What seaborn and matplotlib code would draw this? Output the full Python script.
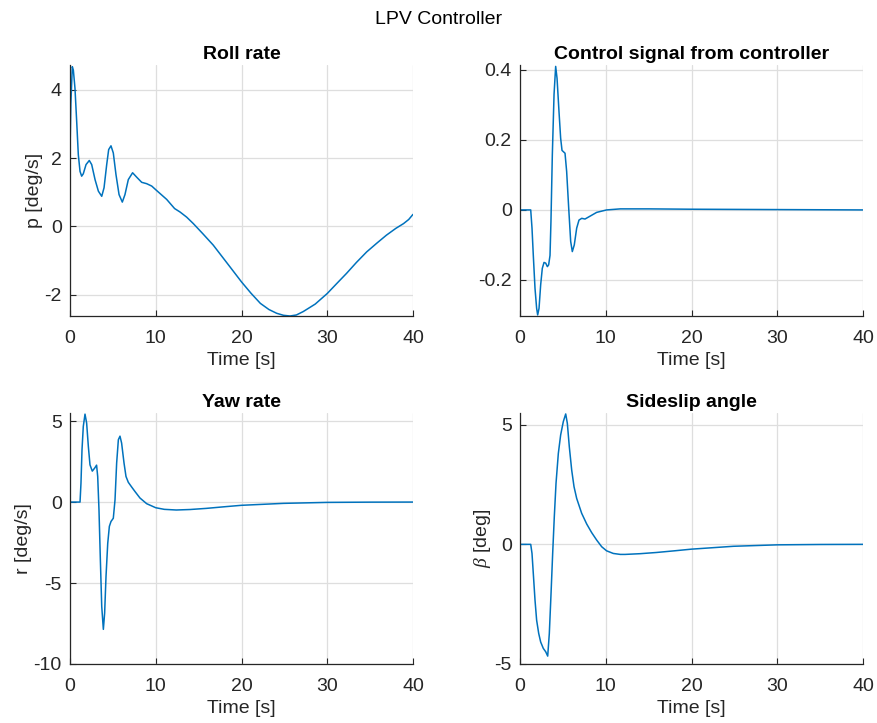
import numpy as np
import pandas as pd
import matplotlib
matplotlib.use("Agg")
import matplotlib.pyplot as plt
import seaborn as sns

# ---------------- data ----------------
roll_t = [0.0, 0.1, 0.27, 0.39, 0.58, 0.78, 0.97, 1.17, 1.36, 1.55, 1.87, 2.25, 2.53,
          2.92, 3.31, 3.7, 3.97, 4.28, 4.51, 4.78, 5.05, 5.36, 5.72, 6.1, 6.41, 6.8,
          7.3, 7.78, 8.36, 8.94, 9.53, 10.1, 11.27, 12.2, 12.83, 13.6, 14.38, 15.5,
          16.7, 18.66, 20.0, 21.1, 22.2, 23.2, 24.1, 24.9, 25.66, 26.4, 27.2, 28.6,
          30.0, 31.1, 32.25, 33.4, 34.6, 35.8, 36.9, 38.0, 38.9, 39.5, 40.0]
roll_p = [2.2, 3.6, 4.68, 4.58, 4.05, 3.07, 2.1, 1.61, 1.47, 1.54, 1.81, 1.93, 1.81,
          1.37, 1.03, 0.88, 1.13, 1.81, 2.25, 2.36, 2.15, 1.52, 0.93, 0.71, 0.93, 1.37,
          1.57, 1.44, 1.29, 1.25, 1.18, 1.05, 0.79, 0.52, 0.42, 0.27, 0.08, -0.22,
          -0.55, -1.19, -1.63, -1.96, -2.26, -2.44, -2.55, -2.61, -2.63, -2.6, -2.5,
          -2.28, -1.97, -1.68, -1.38, -1.06, -0.75, -0.49, -0.26, -0.06, 0.08, 0.2, 0.35]

ctrl_t = [0.0, 1.25, 1.4, 1.55, 1.75, 1.94, 2.06, 2.22, 2.41, 2.6, 2.8, 3.0, 3.19,
          3.34, 3.5, 3.61, 3.77, 3.97, 4.16, 4.32, 4.55, 4.74, 4.9, 5.25, 5.44, 5.68,
          5.91, 6.1, 6.33, 6.61, 6.88, 7.2, 7.58, 8.3, 8.94, 10.1, 11.7, 15.0, 20.0,
          30.0, 40.0]
ctrl_u = [0.0, 0.0, -0.052, -0.129, -0.224, -0.281, -0.30, -0.281, -0.214, -0.167,
          -0.15, -0.152, -0.162, -0.157, -0.13, -0.033, 0.157, 0.33, 0.41, 0.376, 0.28,
          0.205, 0.17, 0.162, 0.11, 0.005, -0.09, -0.119, -0.1, -0.052, -0.029, -0.024,
          -0.026, -0.016, -0.007, 0.0, 0.003, 0.003, 0.002, 0.001, 0.0]

yaw_t = [0.0, 1.17, 1.28, 1.4, 1.55, 1.75, 1.94, 2.14, 2.33, 2.6, 2.88, 3.1, 3.23,
         3.38, 3.54, 3.7, 3.89, 4.04, 4.2, 4.4, 4.59, 4.78, 5.05, 5.25, 5.44, 5.64,
         5.83, 6.02, 6.3, 6.53, 6.8, 7.19, 7.58, 8.16, 8.94, 10.0, 11.0, 12.4, 14.0,
         15.9, 18.0, 20.0, 24.9, 30.0, 35.0, 40.0]
yaw_r = [0.0, 0.0, 1.17, 3.23, 4.67, 5.43, 4.88, 3.43, 2.3, 1.91, 2.1, 2.28, 1.58,
         -0.48, -3.56, -6.44, -7.86, -6.85, -4.59, -2.55, -1.5, -1.2, -1.0, 0.14, 2.41,
         3.85, 4.07, 3.64, 2.41, 1.58, 1.22, 0.93, 0.65, 0.25, -0.1, -0.35, -0.45,
         -0.49, -0.46, -0.39, -0.29, -0.2, -0.08, -0.02, -0.005, 0.0]

slip_t = [0.0, 1.25, 1.4, 1.55, 1.75, 1.94, 2.18, 2.41, 2.72, 3.0, 3.23, 3.42, 3.62,
          3.81, 4.0, 4.2, 4.47, 4.74, 5.05, 5.33, 5.52, 5.75, 6.03, 6.3, 6.61, 7.19,
          7.78, 8.36, 8.94, 9.53, 10.1, 10.88, 11.7, 12.25, 14.0, 15.9, 18.0, 20.0,
          24.9, 30.0, 35.0, 40.0]
slip_b = [0.0, 0.0, -0.38, -1.21, -2.33, -3.17, -3.72, -4.08, -4.35, -4.49, -4.67,
          -3.72, -2.05, -0.38, 1.15, 2.55, 3.8, 4.57, 5.13, 5.45, 5.06, 4.08, 3.1, 2.41,
          1.92, 1.3, 0.85, 0.49, 0.18, -0.1, -0.27, -0.38, -0.42, -0.42, -0.39, -0.34,
          -0.27, -0.2, -0.08, -0.02, -0.005, 0.0]

x_ticks = [0, 10, 20, 30, 40]
roll_yticks = [-2, 0, 2, 4]
ctrl_yticks = [-0.2, 0, 0.2, 0.4]
ctrl_ylabels = ["-0.2", "0", "0.2", "0.4"]
yaw_yticks = [-10, -5, 0, 5]
slip_yticks = [-5, 0, 5]

# ---------------- style ----------------
sns.set_theme(style="white")
plt.rcParams["font.family"] = ["Liberation Sans", "DejaVu Sans"]
plt.rcParams["axes.unicode_minus"] = False
plt.rcParams["mathtext.fontset"] = "custom"
plt.rcParams["mathtext.it"] = "Liberation Serif:italic"

TXT = "#262626"
LINE = "#0072BD"
GRID = "#dedede"
FS = 14

fig = plt.figure(figsize=(8.77, 7.23), dpi=100)

W = 343 / 877
H = 251 / 723
rects = [
    [70 / 877, 1 - 316 / 723, W, H],
    [520 / 877, 1 - 316 / 723, W, H],
    [70 / 877, 1 - 664 / 723, W, H],
    [520 / 877, 1 - 664 / 723, W, H],
]

panels = [
    ("Roll rate", "p [deg/s]", roll_t, roll_p, roll_yticks, None, (min(roll_p), 4.73)),
    ("Control signal from controller", None, ctrl_t, ctrl_u, ctrl_yticks, ctrl_ylabels,
     (-0.303, 0.414)),
    ("Yaw rate", "r [deg/s]", yaw_t, yaw_r, yaw_yticks, None, (-10, 5.5)),
    ("Sideslip angle", r"$\beta$ [deg]", slip_t, slip_b, slip_yticks, None, (-5, 5.49)),
]

for rect, (title, ylab, t, v, yt, ylbl, ylim) in zip(rects, panels):
    ax = fig.add_axes(rect)
    df = pd.DataFrame({"t": t, "v": v})
    sns.lineplot(data=df, x="t", y="v", ax=ax, color=LINE, linewidth=1.1,
                 estimator=None, sort=False)
    ax.set_xlim(0, 40)
    ax.set_ylim(*ylim)
    ax.set_xticks(x_ticks)
    ax.set_xticklabels([str(x) for x in x_ticks])
    ax.set_yticks(yt)
    if ylbl is None:
        ax.set_yticklabels([str(y) for y in yt])
    else:
        ax.set_yticklabels(ylbl)
    ax.grid(True, color=GRID, linewidth=0.9)
    ax.set_axisbelow(True)
    for s in ["top", "right"]:
        ax.spines[s].set_visible(False)
    for s in ["left", "bottom"]:
        ax.spines[s].set_color(TXT)
        ax.spines[s].set_linewidth(0.9)
    ax.tick_params(direction="in", length=4, width=0.8, colors=TXT,
                   labelsize=FS, left=True, bottom=True)
    ax.tick_params(axis="x", pad=10)
    ax.tick_params(axis="y", pad=6)
    ax.set_title(title, fontsize=FS, fontweight="bold", color="black", pad=4)
    ax.set_xlabel("Time [s]", fontsize=FS, color=TXT, labelpad=4)
    ax.set_ylabel(ylab if ylab else "", fontsize=FS, color=TXT, labelpad=1)

fig.suptitle("LPV Controller", fontsize=FS, color="black", y=1 - 19 / 723, va="center")

fig.savefig("out.png", dpi=100)
